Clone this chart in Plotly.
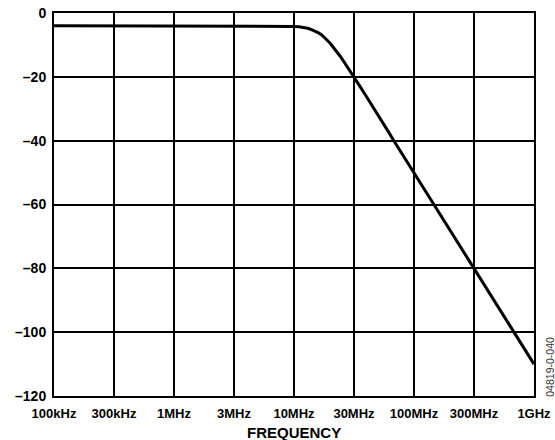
import plotly.graph_objects as go

# frequency response (Hz, dB)
freq_hz = [1e5, 3e5, 1e6, 3e6, 8e6, 1e7, 1.1e7, 1.2e7, 1.3e7, 1.4e7, 1.5e7, 1.6e7,
           1.7e7, 1.8e7, 1.9e7, 2e7, 2.2e7, 2.4e7, 2.6e7, 2.8e7, 3.16e7, 3.6e7,
           4e7, 4.5e7, 5e7, 6e7, 7e7, 8e7, 1e8, 3.16e8, 1e9]
gain_db = [-4, -4, -4, -4, -4.05, -4.2, -4.3, -4.5, -4.8, -5.2, -5.7, -6.2,
           -6.9, -7.7, -8.6, -9.5, -11.4, -13.3, -15.2, -17, -20, -23.4,
           -26.1, -29.1, -32, -36.7, -40.8, -44.3, -50, -80, -110]

x_tickvals = [1e5, 10 ** 5.5, 1e6, 10 ** 6.5, 1e7, 10 ** 7.5, 1e8, 10 ** 8.5, 1e9]
x_ticktext = ['100kHz', '300kHz', '1MHz', '3MHz', '10MHz', '30MHz', '100MHz', '300MHz', '1GHz']
y_tickvals = [0, -20, -40, -60, -80, -100, -120]
y_ticktext = ['0', '–20', '–40', '–60', '–80', '–100', '–120']

fig = go.Figure()
fig.add_trace(go.Scatter(x=freq_hz, y=gain_db, mode='lines',
                         line=dict(color='black', width=3),
                         showlegend=False, hoverinfo='skip'))

fnt = 'Liberation Sans, Arial, sans-serif'

fig.update_layout(
    width=555, height=440,
    margin=dict(l=54, r=21, t=13, b=44),
    paper_bgcolor='white', plot_bgcolor='white',
    font=dict(family=fnt, color='black'),
    xaxis=dict(type='log', range=[5, 9], tickvals=x_tickvals,
               ticktext=['<b>%s</b>' % t for t in x_ticktext],
               showgrid=True, gridcolor='black', gridwidth=1.5,
               showline=True, linecolor='black', linewidth=2, mirror=True,
               ticks='', ticklabelstandoff=4, zeroline=False, automargin=False,
               tickfont=dict(family=fnt, size=13, color='black')),
    yaxis=dict(range=[-120, 0], tickvals=y_tickvals,
               ticktext=['<b>%s</b>' % t for t in y_ticktext],
               showgrid=True, gridcolor='black', gridwidth=1.5,
               showline=True, linecolor='black', linewidth=2, mirror=True,
               ticks='', ticklabelstandoff=3, zeroline=False, automargin=False,
               tickfont=dict(family=fnt, size=14, color='black')),
    annotations=[
        dict(text='<b>FREQUENCY</b>', xref='paper', yref='paper', x=0.5, y=-0.094,
             xanchor='center', yanchor='middle', showarrow=False,
             font=dict(family=fnt, size=15, color='black')),
        dict(text='04819-0-040', xref='paper', yref='paper', x=1.033, y=0.076,
             xanchor='center', yanchor='middle', textangle=-90, showarrow=False,
             font=dict(family=fnt, size=10.5, color='#333333')),
    ],
)

# drop the default 8px page margin so the figure sits at the window corner
fig.write_html("out.html", config={'displayModeBar': False},
               post_script="document.body.style.margin='0';")
